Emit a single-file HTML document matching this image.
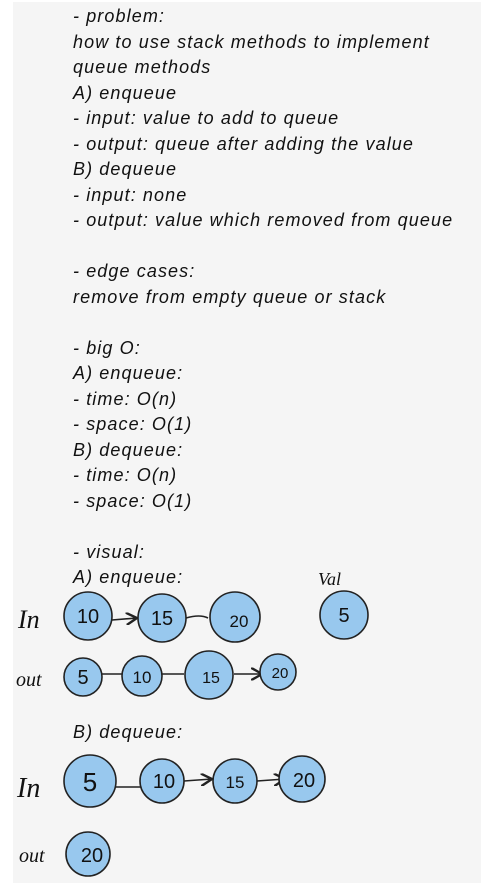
<!DOCTYPE html>
<html><head><style>
html,body{margin:0;padding:0;background:#fff;}
body{width:481px;height:883px;position:relative;overflow:hidden;}
#p{position:absolute;left:13px;top:2px;width:468px;height:881px;background:#f5f5f5;}
.t{position:absolute;left:73px;font-family:"Liberation Sans",sans-serif;font-style:italic;font-size:18px;letter-spacing:1.1px;color:#111;white-space:nowrap;line-height:20px;}
svg{position:absolute;left:0;top:0;}
</style></head><body>
<div id="p"></div>
<div class="t" style="top:6px">- problem:</div>
<div class="t" style="top:32px">how to use stack methods to implement</div>
<div class="t" style="top:57px">queue methods</div>
<div class="t" style="top:83px">A) enqueue</div>
<div class="t" style="top:108px">- input: value to add to queue</div>
<div class="t" style="top:134px">- output: queue after adding the value</div>
<div class="t" style="top:159px">B) dequeue</div>
<div class="t" style="top:185px">- input: none</div>
<div class="t" style="top:210px">- output: value which removed from queue</div>
<div class="t" style="top:261px">- edge cases:</div>
<div class="t" style="top:287px">remove from empty queue or stack</div>
<div class="t" style="top:338px">- big O:</div>
<div class="t" style="top:363px">A) enqueue:</div>
<div class="t" style="top:389px">- time: O(n)</div>
<div class="t" style="top:414px">- space: O(1)</div>
<div class="t" style="top:440px">B) dequeue:</div>
<div class="t" style="top:465px">- time: O(n)</div>
<div class="t" style="top:491px">- space: O(1)</div>
<div class="t" style="top:542px">- visual:</div>
<div class="t" style="top:567px">A) enqueue:</div>
<div class="t" style="top:722px">B) dequeue:</div>
<svg width="481" height="883" font-family="Liberation Sans, sans-serif" fill="#111">
<defs><marker id="a" markerWidth="8" markerHeight="8" refX="7" refY="4" orient="auto"><path d="M0,0 L7,4 L0,8" fill="none" stroke="#222" stroke-width="1.5"/></marker></defs>
<g stroke="#222" stroke-width="1.6" fill="none">
<line x1="112" y1="620" x2="137" y2="618" marker-end="url(#a)"/>
<path d="M186,618 Q200,614 208,618"/>
<line x1="102" y1="674" x2="122" y2="674"/>
<line x1="162" y1="674" x2="184" y2="674"/>
<line x1="234" y1="674" x2="262" y2="674" marker-end="url(#a)"/>
<line x1="110" y1="787" x2="155" y2="787" marker-end="url(#a)"/>
<line x1="184" y1="781" x2="212" y2="779" marker-end="url(#a)"/>
<line x1="257" y1="781" x2="285" y2="779" marker-end="url(#a)"/>
</g>
<g fill="#98c8ee" stroke="#222" stroke-width="1.6">
<circle cx="88" cy="616" r="24"/><circle cx="162" cy="618" r="24"/><circle cx="235" cy="617" r="25"/><circle cx="344" cy="615" r="24"/>
<circle cx="83" cy="677" r="19"/><circle cx="142" cy="676" r="20"/><circle cx="209" cy="675" r="24"/><circle cx="278" cy="672" r="18"/>
<circle cx="90" cy="781" r="26"/><circle cx="162" cy="781" r="22"/><circle cx="235" cy="781" r="22"/><circle cx="302" cy="779" r="23"/>
<circle cx="88" cy="854" r="22"/>
</g>
<g font-size="20" text-anchor="middle">
<text x="88" y="623">10</text><text x="162" y="625">15</text><text x="239" y="627" font-size="17">20</text><text x="344" y="622">5</text>
<text x="83" y="684">5</text><text x="142" y="683" font-size="17">10</text><text x="211" y="683" font-size="16">15</text><text x="280" y="678" font-size="15">20</text>
<text x="90" y="791" font-size="26">5</text><text x="164" y="788">10</text><text x="235" y="788" font-size="17">15</text><text x="304" y="787">20</text>
<text x="92" y="862">20</text>
</g>
<g font-family="Liberation Serif, serif" font-style="italic">
<text x="18" y="628" font-size="26">In</text>
<text x="16" y="686" font-size="20">out</text>
<text x="17" y="797" font-size="28">In</text>
<text x="19" y="862" font-size="20">out</text>
<text x="318" y="585" font-size="18">Val</text>
</g>
</svg>
</body></html>
